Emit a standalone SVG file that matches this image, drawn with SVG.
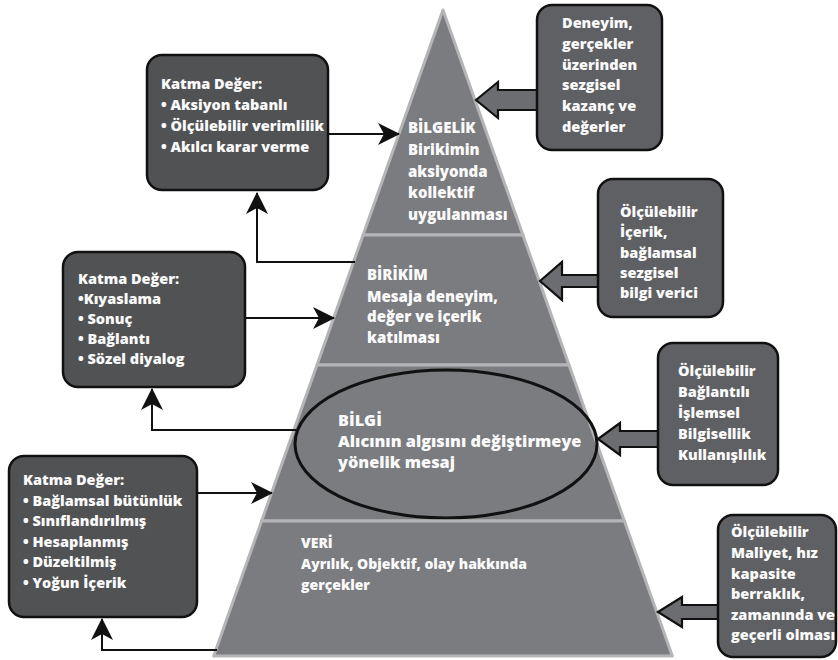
<svg xmlns="http://www.w3.org/2000/svg" width="838" height="660" viewBox="0 0 838 660">
<style>
.lvl{fill:#7b7c80;stroke:#b5b5b7;stroke-width:3;stroke-linejoin:round}
.lbox{fill:#515254;stroke:#111;stroke-width:2.5}
.rbox{fill:#5f6063;stroke:#111;stroke-width:2.5}
.barrow{fill:#6c6d70;stroke:#111;stroke-width:2.2;stroke-linejoin:miter}
.conn{fill:none;stroke:#111;stroke-width:2}
.t{font-family:"Open Sans",Lato,"Liberation Sans",sans-serif;font-weight:800;fill:#fafafa}
.bt{font-size:14.5px}
.pt{font-size:15px}
.pb{font-size:16.3px}
.pv{font-size:14px}
</style>
<defs>
<marker id="ah" viewBox="0 0 22 22" markerWidth="22" markerHeight="22" refX="21" refY="11" orient="auto" markerUnits="userSpaceOnUse">
<path d="M0,0 L22,11 L0,22 L6,11 Z" fill="#111"/>
</marker>
</defs>
<g id="level-bilgelik">
<polygon class="lvl" points="443,10 522.9,235 363.1,235"/>
<text class="t pt"><tspan x="408" y="133">BİLGELİK</tspan><tspan x="408" y="155">Birikimin</tspan><tspan x="408" y="176.5">aksiyonda</tspan><tspan x="408" y="198">kollektif</tspan><tspan x="408" y="219.5">uygulanması</tspan></text>
</g>
<g id="level-birikim">
<polygon class="lvl" points="363.1,235 522.9,235 569,365 317,365"/>
<text class="t pt"><tspan x="367" y="280">BİRİKİM</tspan><tspan x="367" y="301.5">Mesaja deneyim,</tspan><tspan x="367" y="322">değer ve içerik</tspan><tspan x="367" y="343">katılması</tspan></text>
</g>
<g id="level-bilgi">
<polygon class="lvl" points="317,365 569,365 624.4,521 261.6,521"/>
<ellipse cx="446" cy="444" rx="151" ry="74" fill="none" stroke="#111" stroke-width="3"/>
<text class="t pb"><tspan x="338" y="426">BİLGİ</tspan><tspan x="338" y="447">Alıcının algısını değiştirmeye</tspan><tspan x="338" y="468">yönelik mesaj</tspan></text>
</g>
<g id="level-veri">
<polygon class="lvl" points="261.6,521 624.4,521 672.3,656 213.7,656"/>
<text class="t pv"><tspan x="301" y="548">VERİ</tspan><tspan x="301" y="569">Ayrılık, Objektif, olay hakkında</tspan><tspan x="301" y="590">gerçekler</tspan></text>
</g>
<g id="connectors">
<path class="conn" d="M328,134 H399" marker-end="url(#ah)"/>
<path class="conn" d="M355,262 H257 V193" marker-end="url(#ah)"/>
<path class="conn" d="M245,318 H334" marker-end="url(#ah)"/>
<path class="conn" d="M296,430 H152 V389" marker-end="url(#ah)"/>
<path class="conn" d="M197,493 H272" marker-end="url(#ah)"/>
<path class="conn" d="M217,650 H102 V619" marker-end="url(#ah)"/>
<polygon class="barrow" points="476,100 498,82 498,90 545,90 545,110 498,110 498,118"/>
<polygon class="barrow" points="540,281 562,262 562,275 605,275 605,287 562,287 562,300"/>
<polygon class="barrow" points="598,439 620,423 620,431 665,431 665,447 620,447 620,455"/>
<polygon class="barrow" points="658,612 682,597 682,605 725,605 725,619 682,619 682,627"/>
</g>
<g id="box-katma-bilgelik">
<rect class="lbox" x="147" y="55" width="181" height="135" rx="15"/>
<text class="t bt"><tspan x="161" y="89">Katma Değer:</tspan><tspan x="161" y="110">• Aksiyon tabanlı</tspan><tspan x="161" y="131">• Ölçülebilir verimlilik</tspan><tspan x="161" y="152">• Akılcı karar verme</tspan></text>
</g>
<g id="box-katma-birikim">
<rect class="lbox" x="63" y="252" width="182" height="135" rx="15"/>
<text class="t bt"><tspan x="78" y="284">Katma Değer:</tspan><tspan x="78" y="304">•Kıyaslama</tspan><tspan x="78" y="324">• Sonuç</tspan><tspan x="78" y="344">• Bağlantı</tspan><tspan x="78" y="364">• Sözel diyalog</tspan></text>
</g>
<g id="box-katma-veri">
<rect class="lbox" x="9" y="456" width="188" height="161" rx="15"/>
<text class="t bt"><tspan x="23" y="485">Katma Değer:</tspan><tspan x="23" y="505.5">• Bağlamsal bütünlük</tspan><tspan x="23" y="526">• Sınıflandırılmış</tspan><tspan x="23" y="546.5">• Hesaplanmış</tspan><tspan x="23" y="567">• Düzeltilmiş</tspan><tspan x="23" y="587.5">• Yoğun İçerik</tspan></text>
</g>
<g id="box-deneyim">
<rect class="rbox" x="537" y="5" width="125" height="145" rx="15"/>
<text class="t bt"><tspan x="562" y="28">Deneyim,</tspan><tspan x="562" y="49">gerçekler</tspan><tspan x="562" y="69.5">üzerinden</tspan><tspan x="562" y="90">sezgisel</tspan><tspan x="562" y="111">kazanç ve</tspan><tspan x="562" y="131.5">değerler</tspan></text>
</g>
<g id="box-olculebilir-icerik">
<rect class="rbox" x="598" y="179" width="125" height="138" rx="15"/>
<text class="t bt"><tspan x="620" y="217">Ölçülebilir</tspan><tspan x="620" y="237">İçerik,</tspan><tspan x="620" y="257.5">bağlamsal</tspan><tspan x="620" y="278">sezgisel</tspan><tspan x="620" y="298">bilgi verici</tspan></text>
</g>
<g id="box-olculebilir-baglantili">
<rect class="rbox" x="658" y="343" width="120" height="142" rx="15"/>
<text class="t bt"><tspan x="678" y="376">Ölçülebilir</tspan><tspan x="678" y="397">Bağlantılı</tspan><tspan x="678" y="418">İşlemsel</tspan><tspan x="678" y="439">Bilgisellik</tspan><tspan x="678" y="460">Kullanışlılık</tspan></text>
</g>
<g id="box-olculebilir-maliyet">
<rect class="rbox" x="718" y="515" width="118" height="142" rx="15"/>
<text class="t bt"><tspan x="731" y="537">Ölçülebilir</tspan><tspan x="731" y="558">Maliyet, hız</tspan><tspan x="731" y="578.5">kapasite</tspan><tspan x="731" y="599">berraklık,</tspan><tspan x="731" y="620">zamanında ve</tspan><tspan x="731" y="640">geçerli olması</tspan></text>
</g>
</svg>
